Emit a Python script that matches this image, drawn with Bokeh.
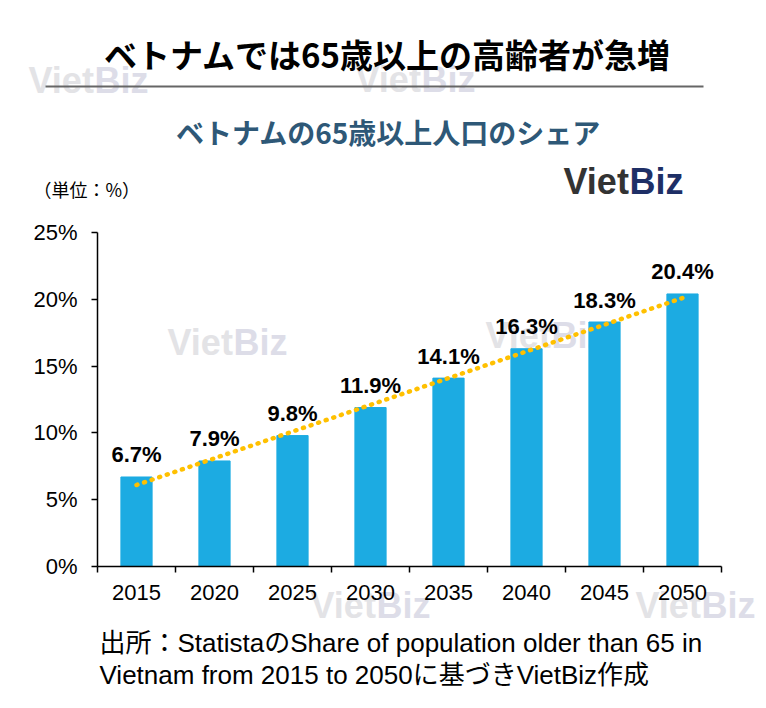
from bokeh.plotting import figure
from bokeh.models import Label, BoxAnnotation, FixedTicker, Range1d, ColumnDataSource
from bokeh.core.properties import value
from bokeh.embed import file_html
from bokeh.resources import INLINE

# ---- data ----
years = ["2015", "2020", "2025", "2030", "2035", "2040", "2045", "2050"]
shares = [6.7, 7.9, 9.8, 11.9, 14.1, 16.3, 18.3, 20.4]
share_labels = ["6.7%", "7.9%", "9.8%", "11.9%", "14.1%", "16.3%", "18.3%", "20.4%"]
y_ticks = [0, 5, 10, 15, 20, 25]
y_tick_labels = ["0%", "5%", "10%", "15%", "20%", "25%"]
y_max = 25
trend_years = ["2015", "2050"]
trend_values = [6.1, 20.1]

title_text = "ベトナムでは65歳以上の高齢者が急増"
subtitle_text = "ベトナムの65歳以上人口のシェア"
unit_text = "（単位：%）"
source_line1 = "出所：StatistaのShare of population older than 65 in"
source_line2 = "Vietnam from 2015 to 2050に基づきVietBiz作成"

FONT = "Liberation Sans, 'Noto Sans CJK JP'"
CJK = "'Noto Sans CJK JP'"

# ---- layout (canvas pixels) ----
W, H = 758, 700
PLOT_LEFT, PLOT_RIGHT, PLOT_TOP, PLOT_BOTTOM = 97, 721, 232, 566
n = len(years)
px_per_x = (PLOT_RIGHT - PLOT_LEFT) / n
px_per_y = (PLOT_BOTTOM - PLOT_TOP) / y_max
x_range = Range1d(-PLOT_LEFT / px_per_x, (W - PLOT_LEFT) / px_per_x)
y_range = Range1d(-(H - PLOT_BOTTOM) / px_per_y, PLOT_BOTTOM / px_per_y)

centers = [i + 0.5 for i in range(n)]
src = ColumnDataSource(dict(x=centers, top=shares, label=share_labels))
trend_x = [years.index(y) + 0.5 for y in trend_years]

p = figure(width=W, height=H, x_range=x_range, y_range=y_range,
           output_backend="svg", toolbar_location=None, min_border=0)
p.outline_line_color = None
p.xgrid.grid_line_color = None
p.ygrid.grid_line_color = None


def lab(x, y, text, **kw):
    # x, y: canvas pixels from top-left
    p.add_layout(Label(x=x, y=H - y, x_units="screen", y_units="screen", text=text, **kw))


# watermarks
wm_positions = [(28, 80), (355, 79), (167, 342), (485, 335), (310, 605), (635, 605)]
for wx, wy in wm_positions:
    lab(wx, wy, "Viet", text_font="Liberation Sans", text_font_style="bold",
        text_font_size="36px", text_color="#e3e3e6", text_baseline="middle", level="underlay")
    lab(wx + 66, wy, "Biz", text_font="Liberation Sans", text_font_style="bold",
        text_font_size="36px", text_color="#dddde8", text_baseline="middle", level="underlay")

p.vbar(x="x", top="top", width=0.4, source=src, color="#1CABE2")
p.line(trend_x, trend_values, line_color="#FFC000", line_width=4.5, line_dash="1 7", line_cap="round")
p.text(x="x", y="top", text="label", source=src, text_align="center", text_baseline="alphabetic",
       y_offset=-22, text_font=value("Liberation Sans"), text_font_style="bold",
       text_font_size="22px", text_color="black")

# axes (drawn at fixed data locations)
xa = p.xaxis[0]
xa.fixed_location = 0
xa.bounds = (0, n)
xa.ticker = FixedTicker(ticks=centers, minor_ticks=list(range(n + 1)))
xa.major_label_overrides = {c: y for c, y in zip(centers, years)}
xa.major_tick_out = 0
xa.major_tick_in = 0
xa.minor_tick_out = 6
xa.minor_tick_in = 0
xa.minor_tick_line_color = "black"
xa.minor_tick_line_width = 1.5
xa.axis_line_color = "black"
xa.axis_line_width = 1.5
xa.major_label_text_font = "Liberation Sans"
xa.major_label_text_font_size = "22px"
xa.major_label_text_color = "black"
xa.major_label_standoff = 12

ya = p.yaxis[0]
ya.fixed_location = 0
ya.bounds = (0, y_max)
ya.ticker = FixedTicker(ticks=y_ticks, minor_ticks=[])
ya.major_label_overrides = {t: l for t, l in zip(y_ticks, y_tick_labels)}
ya.major_tick_out = 6
ya.major_tick_in = 0
ya.major_tick_line_color = "black"
ya.major_tick_line_width = 1.5
ya.axis_line_color = "black"
ya.axis_line_width = 1.5
ya.major_label_text_font = "Liberation Sans"
ya.major_label_text_font_size = "22px"
ya.major_label_text_color = "black"
ya.major_label_standoff = 14

# titles and notes
lab(387, 53, title_text, text_font=CJK, text_font_style="bold", text_font_size="33px",
    text_color="black", text_align="center", text_baseline="middle")
p.add_layout(BoxAnnotation(left=45, right=703, bottom=H - 87, top=H - 85, left_units="screen",
                           right_units="screen", top_units="screen", bottom_units="screen",
                           fill_color="#666666", fill_alpha=1, line_color=None))
lab(388, 131, subtitle_text, text_font=CJK, text_font_style="bold", text_font_size="28px",
    text_color="#2E5877", text_align="center", text_baseline="middle")
lab(33, 188, unit_text, text_font=CJK, text_font_size="18px", text_color="black",
    text_baseline="middle")
lab(563, 181, "Viet", text_font="Liberation Sans", text_font_style="bold",
    text_font_size="36px", text_color="#333333", text_baseline="middle")
lab(629, 181, "Biz", text_font="Liberation Sans", text_font_style="bold",
    text_font_size="36px", text_color="#1E2F66", text_baseline="middle")
lab(99, 642, source_line1, text_font=FONT, text_font_size="26px", text_color="black",
    text_baseline="middle")
lab(99, 674, source_line2, text_font=FONT, text_font_size="26px", text_color="black",
    text_baseline="middle")

open("out.html", "w").write(file_html(p, INLINE))
